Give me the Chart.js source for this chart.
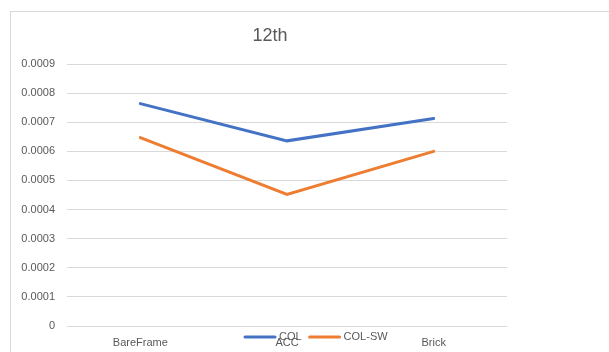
<!DOCTYPE html>
<html>
<head>
<meta charset="utf-8">
<script src="https://cdn.jsdelivr.net/npm/chart.js@4/dist/chart.umd.min.js"></script>
<style>
  html, body { margin: 0; padding: 0; background: #fff; }
  body { width: 609px; height: 352px; position: relative; overflow: hidden; }
  #frame {
    position: absolute; left: 10px; top: 11px; width: 640px; height: 400px;
    border-left: 1px solid #d9d9d9; border-top: 1px solid #d9d9d9;
  }
  #wrap { position: absolute; left: 0; top: 0; width: 540px; height: 352px; }
</style>
</head>
<body>
<div id="frame"></div>
<div id="wrap"><canvas id="chart"></canvas></div>
<script>
// Chart data
const categories = ["BareFrame", "ACC", "Brick"];
const colValues = [0.000764, 0.000636, 0.000713];
const colSwValues = [0.000647, 0.000452, 0.0006];
const yTickValues = [0, 0.0001, 0.0002, 0.0003, 0.0004, 0.0005, 0.0006, 0.0007, 0.0008, 0.0009];
const chartTitle = "12th";

const FONT = "'Liberation Sans', Arial, sans-serif";
const TEXT_COLOR = "#595959";

// title sits centred on the whole chart object, not on the plot area
const titleAndLegend = {
  id: "titleAndLegend",
  afterDraw(chart) {
    const { ctx, chartArea } = chart;
    ctx.save();

    ctx.font = "18px " + FONT;
    ctx.fillStyle = TEXT_COLOR;
    ctx.textAlign = "center";
    ctx.textBaseline = "middle";
    ctx.fillText(chartTitle, chartArea.left + 203, 36);

    // legend overlaps the category row like the original
    let x = chartArea.left + 178;
    const y = chartArea.bottom + 11;
    ctx.font = "11px " + FONT;
    ctx.textAlign = "left";
    chart.data.datasets.forEach((ds) => {
      ctx.strokeStyle = ds.borderColor;
      ctx.lineWidth = 3;
      ctx.lineCap = "round";
      ctx.beginPath();
      ctx.moveTo(x, y);
      ctx.lineTo(x + 30, y);
      ctx.stroke();
      ctx.fillStyle = TEXT_COLOR;
      ctx.fillText(ds.label, x + 34, y);
      x += 34 + ctx.measureText(ds.label).width + 8;
    });
    ctx.restore();
  },
};

const DATA = {
  labels: categories,
  datasets: [
    {
      label: "COL",
      data: colValues,
      borderColor: "#4472c4",
      backgroundColor: "#4472c4",
      borderWidth: 3,
      pointRadius: 0,
      tension: 0,
      borderCapStyle: "round",
    },
    {
      label: "COL-SW",
      data: colSwValues,
      borderColor: "#ed7d31",
      backgroundColor: "#ed7d31",
      borderWidth: 3,
      pointRadius: 0,
      tension: 0,
      borderCapStyle: "round",
    },
  ],
};

const CONFIG = {
  type: "line",
  data: DATA,
  plugins: [titleAndLegend],
  options: {
    responsive: true,
    maintainAspectRatio: false,
    animation: false,
    layout: { padding: { left: 21, right: 33, top: 64, bottom: 0 } },
    plugins: {
      legend: { display: false },
      tooltip: { enabled: false },
      title: { display: false },
    },
    scales: {
      x: {
        offset: true,
        border: { display: false },
        grid: { display: false, drawTicks: false },
        ticks: {
          color: TEXT_COLOR,
          font: { family: FONT, size: 11 },
          padding: 10,
          maxRotation: 0,
        },
        afterFit(scale) {
          scale.height = 26;
        },
      },
      y: {
        min: 0,
        max: 0.0009,
        border: { display: false },
        grid: { color: "#d9d9d9", lineWidth: 1, drawTicks: false },
        ticks: {
          color: TEXT_COLOR,
          font: { family: FONT, size: 11 },
          padding: 12,
          callback: (v) => (v === 0 ? "0" : v.toFixed(4)),
        },
        afterBuildTicks(scale) {
          scale.ticks = yTickValues.map((v) => ({ value: v }));
        },
        afterFit(scale) {
          scale.width = 46;
        },
      },
    },
  },
};

new Chart(document.getElementById("chart"), CONFIG);
</script>
</body>
</html>
